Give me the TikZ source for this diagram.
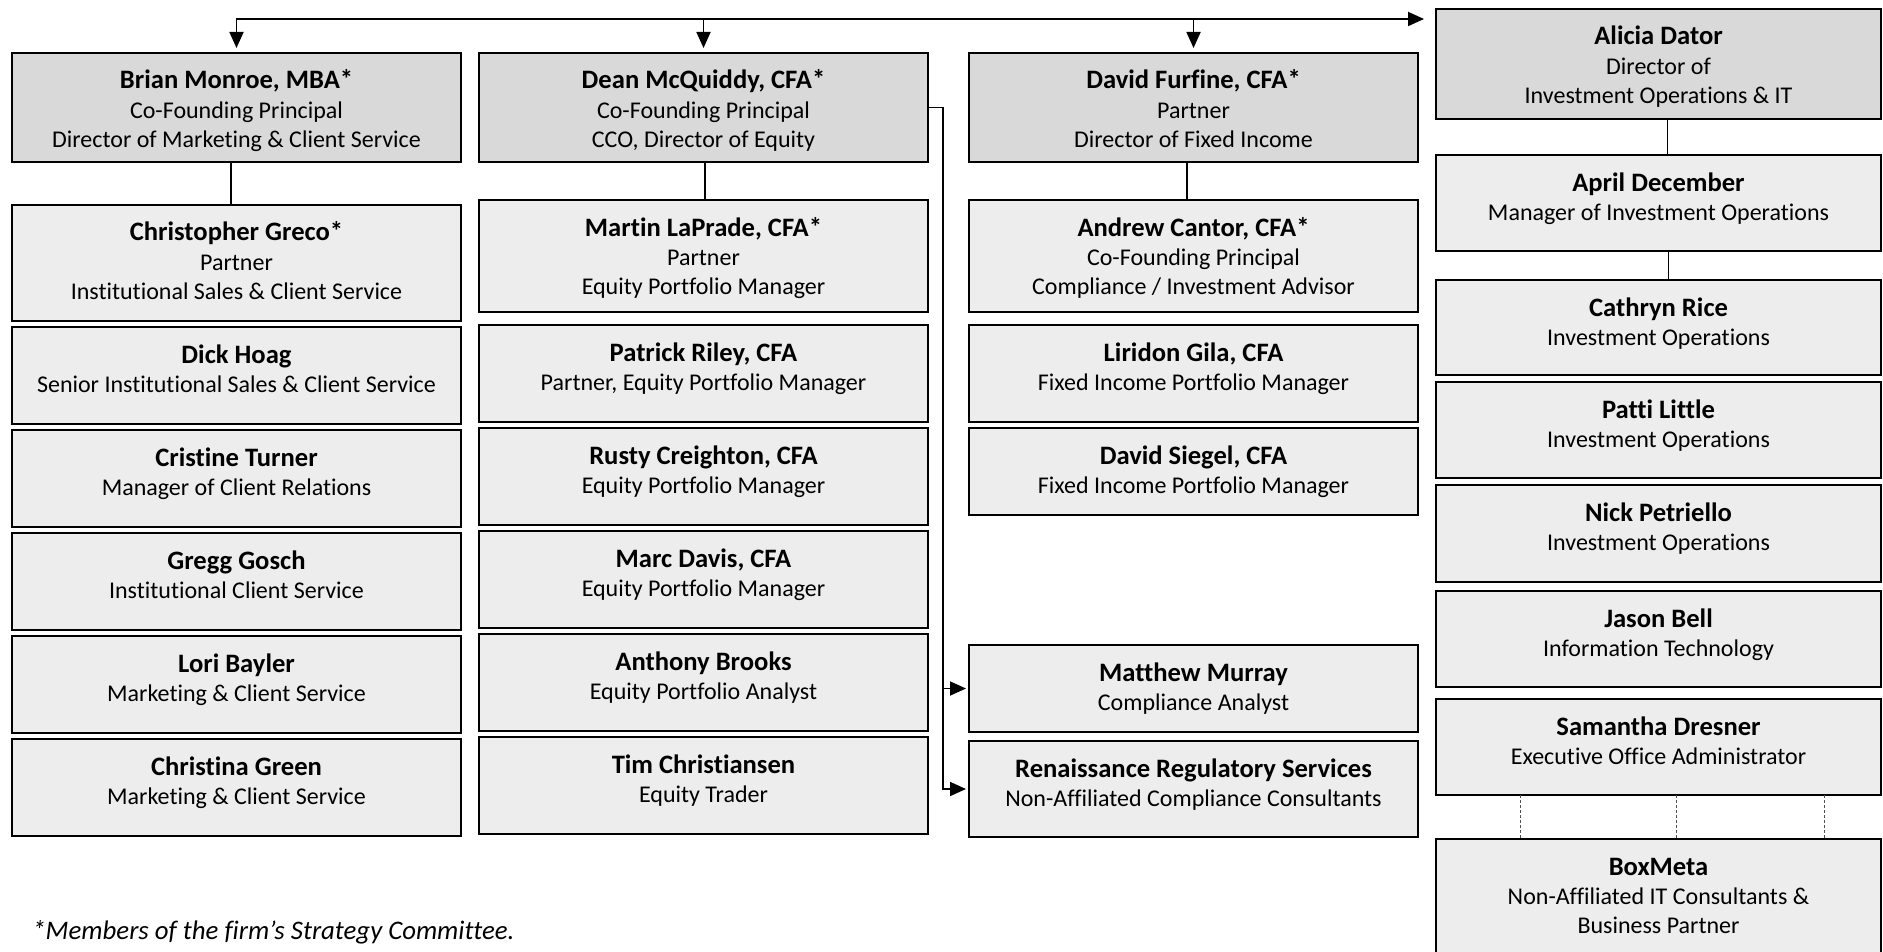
\documentclass[tikz,border=0pt]{standalone}
\usepackage{fontspec}
\setmainfont{Carlito}[RawFeature={-liga;-clig;-calt;-rlig}]
\usetikzlibrary{arrows.meta,positioning}
\definecolor{headgray}{RGB}{217,217,217}
\definecolor{staffgray}{RGB}{237,237,237}
\definecolor{dashgray}{RGB}{80,80,80}
\newcommand{\pname}[1]{{\fontsize{13.3}{14.6}\selectfont\bfseries #1}}
% card text: top aligned, #1 = box height
\newcommand{\card}[2]{\parbox[c][#1][t]{216pt}{\centering\rule{0pt}{18pt}#2}}
\tikzset{
  headbox/.style={draw=black,line width=1.4pt,fill=headgray,outer sep=0pt,inner sep=0pt,
    minimum width=224.5pt,align=center,font=\fontsize{12}{14.6}\selectfont},
  staffbox/.style={draw=black,line width=0.9pt,fill=staffgray,outer sep=0pt,inner sep=0pt,
    minimum width=224.5pt,align=center,font=\fontsize{12}{14.6}\selectfont},
  link/.style={line width=0.9pt,black},
  feed/.style={line width=0.9pt,black,line cap=rect,-{Triangle[length=8pt,width=7pt]}},
  dotlink/.style={line width=0.5pt,dashgray,dash pattern=on 1.5pt off 1pt},
  note/.style={font=\fontsize{13.4}{15}\selectfont\itshape,anchor=west,inner sep=0pt}
}

\begin{document}
\begin{tikzpicture}[x=0.5pt,y=-0.5pt]
  \useasboundingbox (0,0) rectangle (1883,952);
  % marketing and client service
  \node[headbox,anchor=north west] (brian) at (12,53)
    {\card{54.5pt}{\pname{Brian Monroe, MBA*}\\Co-Founding Principal\\Director of Marketing \& Client Service}};
  \node[staffbox,anchor=north west] (greco) at (12,205)
    {\card{58pt}{\pname{Christopher Greco*}\\Partner\\Institutional Sales \& Client Service}};
  \node[staffbox,below=3pt of greco] (hoag)
    {\card{48.5pt}{\pname{Dick Hoag}\\Senior Institutional Sales \& Client Service}};
  \node[staffbox,below=3pt of hoag] (turner)
    {\card{48.5pt}{\pname{Cristine Turner}\\Manager of Client Relations}};
  \node[staffbox,below=3pt of turner] (gosch)
    {\card{48.5pt}{\pname{Gregg Gosch}\\Institutional Client Service}};
  \node[staffbox,below=3pt of gosch] (bayler)
    {\card{48.5pt}{\pname{Lori Bayler}\\Marketing \& Client Service}};
  \node[staffbox,below=3pt of bayler] (green)
    {\card{48.5pt}{\pname{Christina Green}\\Marketing \& Client Service}};
  % equity
  \node[headbox,anchor=north west] (dean) at (479,53)
    {\card{54.5pt}{\pname{Dean McQuiddy, CFA*}\\Co-Founding Principal\\CCO, Director of Equity}};
  \node[staffbox,anchor=north west] (laprade) at (479,200)
    {\card{56pt}{\pname{Martin LaPrade, CFA*}\\Partner\\Equity Portfolio Manager}};
  \node[staffbox,below=6.5pt of laprade] (riley)
    {\card{48.5pt}{\pname{Patrick Riley, CFA}\\Partner, Equity Portfolio Manager}};
  \node[staffbox,below=3pt of riley] (creighton)
    {\card{48.5pt}{\pname{Rusty Creighton, CFA}\\Equity Portfolio Manager}};
  \node[staffbox,below=3pt of creighton] (davis)
    {\card{48.5pt}{\pname{Marc Davis, CFA}\\Equity Portfolio Manager}};
  \node[staffbox,below=3pt of davis] (brooks)
    {\card{48.5pt}{\pname{Anthony Brooks}\\Equity Portfolio Analyst}};
  \node[staffbox,below=3pt of brooks] (christiansen)
    {\card{48.5pt}{\pname{Tim Christiansen}\\Equity Trader}};
  % fixed income and compliance
  \node[headbox,anchor=north west] (furfine) at (969,53)
    {\card{54.5pt}{\pname{David Furfine, CFA*}\\Partner\\Director of Fixed Income}};
  \node[staffbox,anchor=north west] (cantor) at (969,200)
    {\card{56pt}{\pname{Andrew Cantor, CFA*}\\Co-Founding Principal\\Compliance / Investment Advisor}};
  \node[staffbox,below=6.5pt of cantor] (gila)
    {\card{48.5pt}{\pname{Liridon Gila, CFA}\\Fixed Income Portfolio Manager}};
  \node[staffbox,below=3pt of gila] (siegel)
    {\card{43.5pt}{\pname{David Siegel, CFA}\\Fixed Income Portfolio Manager}};
  \node[staffbox,anchor=north west] (murray) at (969,645)
    {\card{43.5pt}{\pname{Matthew Murray}\\Compliance Analyst}};
  \node[staffbox,below=4.5pt of murray] (ren)
    {\card{48pt}{\pname{Renaissance Regulatory Services}\\Non-Affiliated Compliance Consultants}};
  % operations and IT
  \node[headbox,anchor=north west,minimum width=222.5pt] (alicia) at (1436,9)
    {\card{55pt}{\pname{Alicia Dator}\\Director of\\Investment Operations \& IT}};
  \node[staffbox,anchor=north west,minimum width=222.5pt] (april) at (1436,155)
    {\card{48pt}{\pname{April December}\\Manager of Investment Operations}};
  \node[staffbox,below=14.5pt of april,minimum width=222.5pt] (rice)
    {\card{47.5pt}{\pname{Cathryn Rice}\\Investment Operations}};
  \node[staffbox,below=3.5pt of rice,minimum width=222.5pt] (little)
    {\card{48pt}{\pname{Patti Little}\\Investment Operations}};
  \node[staffbox,below=3.5pt of little,minimum width=222.5pt] (petriello)
    {\card{48.5pt}{\pname{Nick Petriello}\\Investment Operations}};
  \node[staffbox,below=4.5pt of petriello,minimum width=222.5pt] (bell)
    {\card{48pt}{\pname{Jason Bell}\\Information Technology}};
  \node[staffbox,below=6pt of bell,minimum width=222.5pt] (dresner)
    {\card{48pt}{\pname{Samantha Dresner}\\Executive Office Administrator}};
  \node[staffbox,below=22pt of dresner,minimum width=222.5pt] (boxmeta)
    {\card{58.5pt}{\pname{BoxMeta}\\Non-Affiliated IT Consultants \&\\Business Partner}};
  \node[note] (footnote) at (32,932) {*Members of the firm’s Strategy Committee.};
  % connectors
  \coordinate (topbus) at (0,19);
  \draw[feed,shorten >=6pt] (topbus -| brian.north) -- (topbus -| alicia.west);
  \foreach \n in {brian,dean,furfine} {\draw[feed,shorten >=2.5pt] (topbus -| \n.north) -- (\n.north);}
  \draw[link] ([xshift=-2.75pt]brian.south) -- ([xshift=-2.75pt]greco.north);
  \draw[link] ([xshift=0.75pt]dean.south) -- ([xshift=0.75pt]laprade.north);
  \draw[link] ([xshift=-3.25pt]furfine.south) -- ([xshift=-3.25pt]cantor.north);
  \draw[link] ([xshift=4.5pt]alicia.south) -- ([xshift=4.5pt]april.north);
  \draw[link] ([xshift=5pt]april.south) -- ([xshift=5pt]rice.north);
  \draw[feed,shorten >=1.5pt] (dean.east) -- ++(7.5pt,0) coordinate (bus) |- (ren.west);
  \draw[feed,shorten >=1.5pt] (bus |- murray.west) -- (murray.west);
  \foreach \dx in {-69.25,8.75,82.75} {\draw[dotlink] ([xshift=\dx pt]dresner.south) -- ([xshift=\dx pt]boxmeta.north);}
\end{tikzpicture}
\end{document}
